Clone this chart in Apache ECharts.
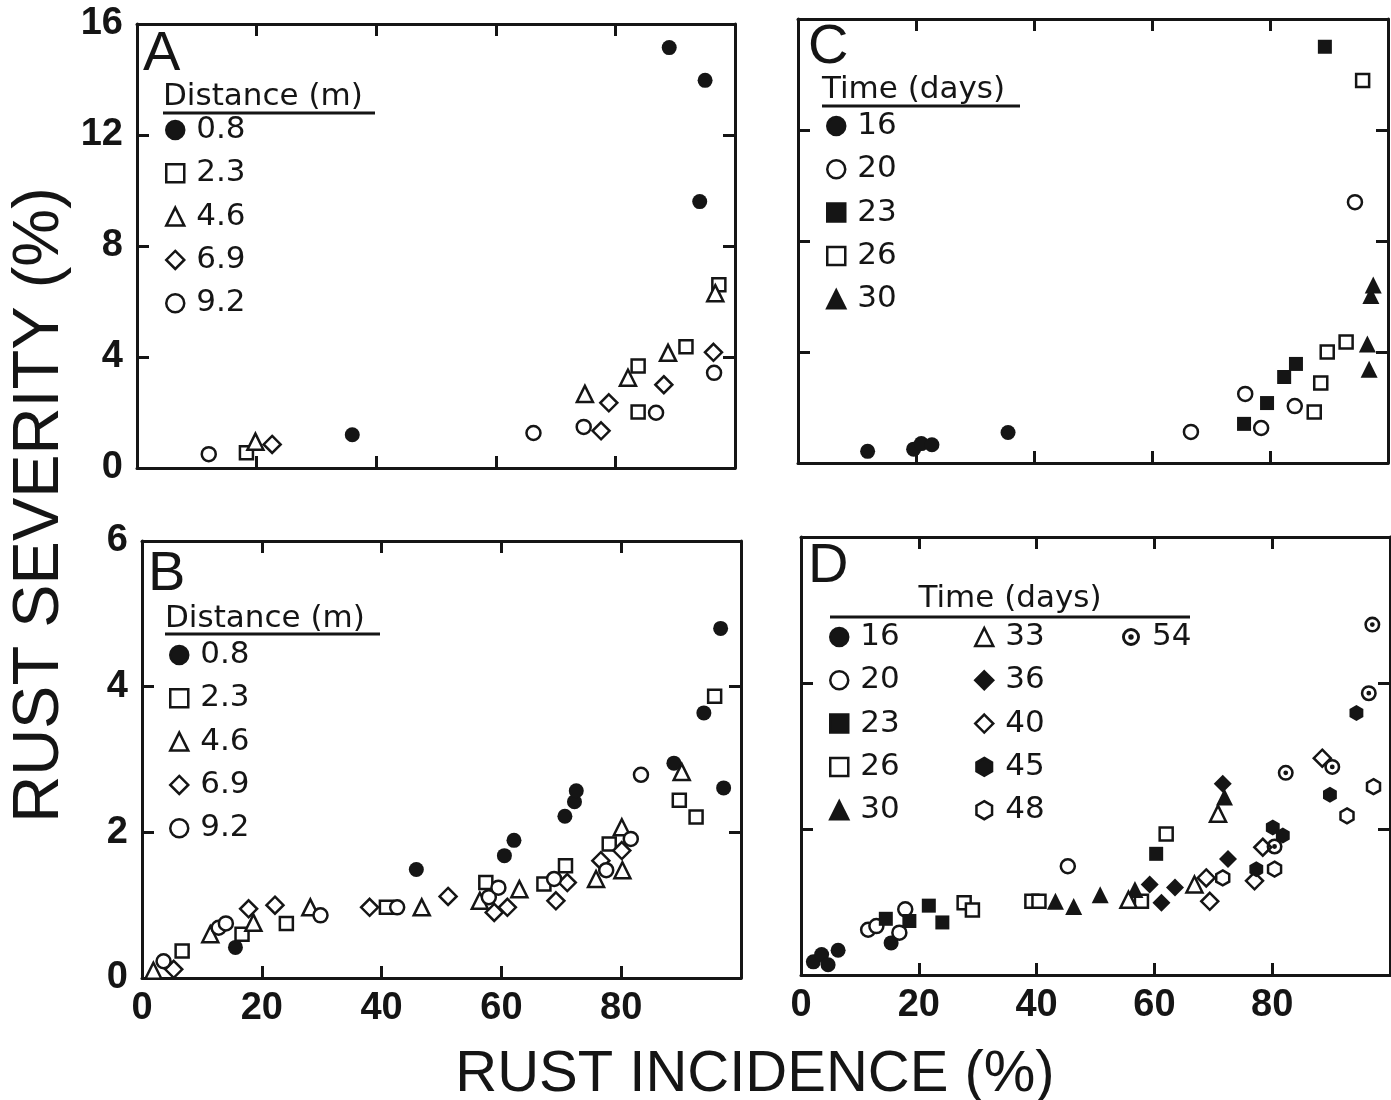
<!DOCTYPE html>
<html><head><meta charset="utf-8">
<script src="https://cdn.jsdelivr.net/npm/echarts@6/dist/echarts.min.js"></script>
<style>html,body{margin:0;padding:0;background:#fff}#c{width:1391px;height:1100px}</style>
</head><body><div id="c"></div>
<script>
// ---------- Panel A : severity vs incidence, by distance (m) ----------
const a_08 = [[36.0,1.2],[89.0,15.15],[94.1,9.6],[95.0,13.97]];
const a_23 = [[18.3,0.55],[83.8,2.02],[83.8,3.68],[91.8,4.37],[97.3,6.6]];
const a_46 = [[19.8,0.95],[74.9,2.67],[82.1,3.25],[88.8,4.15],[96.7,6.3]];
const a_69 = [[22.6,0.85],[77.6,1.34],[78.9,2.35],[88.1,3.0],[96.4,4.17]];
const a_92 = [[12.0,0.5],[66.3,1.26],[74.7,1.48],[86.8,1.99],[96.5,3.43]];
// ---------- Panel B : by distance (m) ----------
const b_08 = [[15.6,0.42],[45.8,1.49],[60.5,1.68],[62.1,1.89],[70.6,2.22],[72.2,2.42],[72.5,2.57],[88.8,2.95],[93.8,3.64],[96.6,4.8],[97.1,2.61]];
const b_23 = [[6.7,0.37],[16.7,0.6],[24.1,0.75],[40.8,0.97],[57.4,1.31],[67.1,1.29],[70.7,1.54],[78.0,1.84],[89.7,2.44],[92.5,2.21],[95.6,3.87]];
const b_46 = [[1.9,0.1],[11.4,0.6],[18.6,0.76],[28.1,0.97],[46.7,0.97],[56.4,1.06],[63.0,1.22],[75.8,1.36],[80.2,1.48],[80.1,2.07],[90.1,2.83]];
const b_69 = [[5.3,0.12],[17.8,0.95],[22.2,1.0],[38.0,0.97],[51.1,1.12],[58.8,0.9],[61.0,0.97],[69.1,1.06],[71.0,1.31],[76.6,1.61],[80.1,1.75]];
const b_92 = [[3.6,0.23],[12.8,0.69],[14.0,0.75],[29.8,0.86],[42.6,0.97],[57.9,1.11],[59.5,1.24],[68.8,1.36],[77.5,1.48],[81.6,1.91],[83.3,2.79]];
// ---------- Panel C : by time (days) ----------
const c_16 = [[11.8,0.42],[19.6,0.5],[20.9,0.7],[22.7,0.66],[35.6,1.1]];
const c_20 = [[66.6,1.12],[75.8,2.49],[78.5,1.26],[84.2,2.05],[94.4,9.4]];
const c_23 = [[75.6,1.41],[79.5,2.16],[82.4,3.1],[84.4,3.57],[89.3,15.0]];
const c_26 = [[87.5,1.84],[88.6,2.88],[89.7,4.0],[92.9,4.36],[95.7,13.78]];
const c_30 = [[96.5,4.29],[96.8,3.38],[97.1,6.04],[97.5,6.41]];
// ---------- Panel D : by time (days) ----------
const d_16 = [[2.1,0.18],[3.5,0.28],[4.6,0.14],[6.3,0.34],[15.3,0.44]];
const d_20 = [[11.4,0.62],[12.8,0.67],[16.7,0.58],[17.7,0.9],[45.3,1.49]];
const d_23 = [[14.4,0.77],[18.4,0.74],[21.7,0.95],[24.0,0.72],[60.3,1.66]];
const d_26 = [[27.7,0.99],[29.1,0.89],[39.2,1.01],[40.4,1.01],[57.8,1.01],[62.0,1.93]];
const d_30 = [[43.2,1.01],[46.3,0.94],[50.8,1.10],[56.7,1.17],[71.9,2.44]];
const d_33 = [[55.6,1.03],[66.8,1.24],[70.8,2.21]];
const d_36 = [[59.2,1.24],[61.2,0.99],[63.5,1.2],[71.6,2.62],[72.5,1.59]];
const d_40 = [[68.8,1.33],[69.4,1.01],[77.0,1.29],[78.4,1.75],[88.5,2.97]];
const d_45 = [[77.3,1.45],[80.1,2.02],[81.8,1.91],[89.8,2.47],[94.3,3.59]];
const d_48 = [[71.6,1.33],[80.4,1.45],[92.7,2.18],[97.2,2.58]];
const d_54 = [[80.4,1.76],[82.3,2.77],[90.2,2.85],[96.4,3.86],[97.0,4.80]];

const distLabels = ['0.8','2.3','4.6','6.9','9.2'];
const timeLabelsC = ['16','20','23','26','30'];
const timeLabelsD = ['16','20','23','26','30','33','36','40','45','48','54'];

const HEX = 'path://M0,-10L8.66,-5L8.66,5L0,10L-8.66,5L-8.66,-5Z';
const DOTC = 'path://M10,0A10,10,0,1,1,-10,0A10,10,0,1,1,10,0Z M6.8,0A6.8,6.8,0,1,0,-6.8,0A6.8,6.8,0,1,0,6.8,0Z M3,0A3,3,0,1,1,-3,0A3,3,0,1,1,3,0Z';
const INK = '#151515';
const FN = 'Liberation Sans';

// symbol specs: [symbol, filled, size]
const SYM = {
  fc:['circle',true,15], oc:['circle',false,14], fs:['rect',true,14], os:['rect',false,13],
  ft:['triangle',true,17], ot:['triangle',false,16], fd:['diamond',true,18], od:['diamond',false,17],
  fh:[HEX,true,16], oh:[HEX,false,15], dc:[DOTC,true,16]
};
function S(name, data, key, gi){
  const [sym, filled, size] = SYM[key];
  return {type:'scatter', name, data, xAxisIndex:gi, yAxisIndex:gi, symbol:sym, symbolSize:size,
    symbolKeepAspect:true,
    itemStyle:{color: filled?INK:'#fff', borderColor:INK, borderWidth: filled?0:2.5, opacity:1},
    emphasis:{disabled:true}, silent:true, clip:false};
}
const series = [
  S('A|0.8',a_08,'fc',0), S('A|2.3',a_23,'os',0), S('A|4.6',a_46,'ot',0), S('A|6.9',a_69,'od',0), S('A|9.2',a_92,'oc',0),
  S('B|0.8',b_08,'fc',1), S('B|2.3',b_23,'os',1), S('B|4.6',b_46,'ot',1), S('B|6.9',b_69,'od',1), S('B|9.2',b_92,'oc',1),
  S('C|16',c_16,'fc',2), S('C|20',c_20,'oc',2), S('C|23',c_23,'fs',2), S('C|26',c_26,'os',2), S('C|30',c_30,'ft',2),
  S('D|16',d_16,'fc',3), S('D|20',d_20,'oc',3), S('D|23',d_23,'fs',3), S('D|26',d_26,'os',3), S('D|30',d_30,'ft',3),
  S('D|33',d_33,'ot',3), S('D|36',d_36,'fd',3), S('D|40',d_40,'od',3), S('D|45',d_45,'fh',3), S('D|48',d_48,'oh',3),
  S('D|54',d_54,'dc',3)
];

const grids = [
  {left:137, top:24, width:598, height:444},  // A
  {left:142, top:541, width:599, height:437}, // B
  {left:798, top:19, width:590, height:444},  // C
  {left:801, top:537, width:589, height:438}  // D
];
const yMax = [16,6,16,6], yInt = [4,2,4,2];
const showX = [false,true,false,true], showY = [true,true,false,false];
const line = {show:true, onZero:false, lineStyle:{color:INK, width:3}};
const tick = {show:true, inside:true, length:12, lineStyle:{color:INK, width:3}};
const xAxis = [], yAxis = [];
for (let i=0;i<4;i++){
  xAxis.push({gridIndex:i, type:'value', min:0, max:100, interval:20, position:'bottom',
    axisLine:line, axisTick:tick, splitLine:{show:false},
    axisLabel:{show:showX[i], showMaxLabel:false, fontSize:38, fontWeight:'bold', fontFamily:FN, color:INK, margin:12}});
}
for (let i=0;i<4;i++){
  xAxis.push({gridIndex:i, type:'value', min:0, max:100, interval:20, position:'top',
    axisLine:line, axisTick:tick, splitLine:{show:false}, axisLabel:{show:false}});
}
for (let i=0;i<4;i++){
  yAxis.push({gridIndex:i, type:'value', min:0, max:yMax[i], interval:yInt[i], position:'left',
    axisLine:line, axisTick:tick, splitLine:{show:false},
    axisLabel:{show:showY[i], fontSize:38, fontWeight:'bold', fontFamily:FN, color:INK, margin:14}});
}
for (let i=0;i<4;i++){
  yAxis.push({gridIndex:i, type:'value', min:0, max:yMax[i], interval:yInt[i], position:'right',
    axisLine:line, axisTick:tick, splitLine:{show:false}, axisLabel:{show:false}});
}

function L(prefix, labels, iconCenterX, firstCenterY){
  return {show:true, orient:'vertical', left:iconCenterX-9, top:firstCenterY-15.5, padding:0, itemGap:12.3,
    itemWidth:18, itemHeight:18, symbolKeepAspect:true, selectedMode:false,
    data: labels.map(l => prefix==='D' && l==='54' ? {name:prefix+'|'+l, itemStyle:{borderWidth:0}} : prefix+'|'+l),
    formatter: n => n.split('|')[1],
    itemStyle:{borderWidth:2.5, borderColor:INK},
    textStyle:{fontSize:31, lineHeight:31, fontFamily:'DejaVu Sans', color:INK, padding:[0,0,0,7]}};
}
const legend = [
  L('A', distLabels, 174, 130),
  L('B', distLabels, 178, 655),
  L('C', timeLabelsC, 835, 126),
  L('D', timeLabelsD.slice(0,5), 838, 637),
  L('D', timeLabelsD.slice(5,10), 983, 637),
  L('D', timeLabelsD.slice(10), 1131, 637)
];

function T(text, x, y, size){
  return {type:'text', x, y, silent:true,
    style:{text, fontSize:size, fontFamily:FN, fill:INK, align:'left', verticalAlign:'middle'}};
}
function LT(text, x, y, align){
  return {type:'text', x, y, silent:true, style:{text, fontSize:31, fontFamily:'DejaVu Sans', fill:INK, align, verticalAlign:'middle'}};
}
function U(x1,x2,y){ return {type:'line', silent:true, shape:{x1,y1:y,x2,y2:y}, style:{stroke:INK, lineWidth:3}}; }
const graphic = [
  T('A',143,55,56), T('B',148,575,56), T('C',808,48,56), T('D',808,567,56),
  LT('Distance (m)',163,97,'left'), U(163,375,113),
  LT('Distance (m)',165,619,'left'), U(165,380,634),
  LT('Time (days)',822,90,'left'), U(822,1020,106),
  LT('Time (days)',1010,599,'center'), U(830,1190,617),
  {type:'text', x:40, y:505, rotation:Math.PI/2, silent:true, style:{text:'RUST SEVERITY (%)', fontSize:65, fontFamily:FN, fill:INK, align:'center', verticalAlign:'middle'}},
  {type:'text', x:755, y:1075, silent:true, style:{text:'RUST INCIDENCE (%)', fontSize:58, fontFamily:FN, fill:INK, align:'center', verticalAlign:'middle'}}
];

const chart = echarts.init(document.getElementById('c'), null, {renderer:'canvas'});
chart.setOption({backgroundColor:'#fff', animation:false, grid:grids, xAxis, yAxis, series, legend, graphic});
</script></body></html>
